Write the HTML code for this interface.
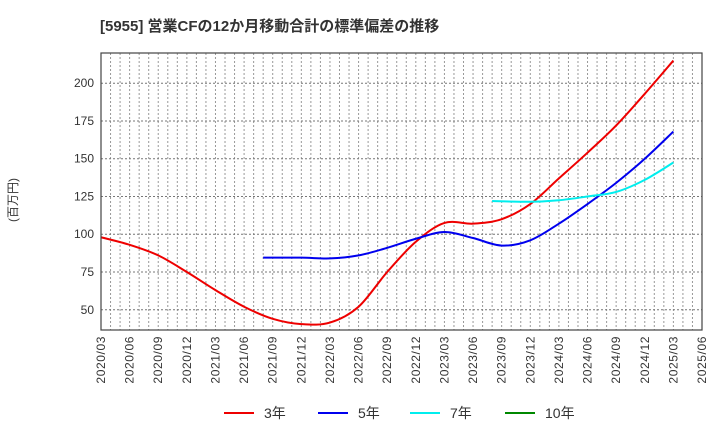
<!DOCTYPE html>
<html><head><meta charset="utf-8"><style>
body{margin:0;background:#fff;font-family:"Liberation Sans","Noto Sans CJK JP",sans-serif}
svg text{font-family:"Liberation Sans","Noto Sans CJK JP",sans-serif}
</style></head><body>
<svg width="720" height="440" xmlns="http://www.w3.org/2000/svg" id="chart">
<text x="100" y="31" font-size="15" font-weight="bold" fill="#333">[5955]  営業CFの12か月移動合計の標準偏差の推移</text>
<text transform="translate(17,200) rotate(-90)" text-anchor="middle" font-size="12" fill="#333">(百万円)</text>
<g id="grid"></g><g id="axes"></g><g id="series"></g>
<rect x="101" y="53" width="601" height="277" fill="none" stroke="#444" stroke-width="1.2"/>
<g id="legend"></g>
</svg>
<script>
const xTickLabels=["2020/03","2020/06","2020/09","2020/12","2021/03","2021/06","2021/09","2021/12","2022/03","2022/06","2022/09","2022/12","2023/03","2023/06","2023/09","2023/12","2024/03","2024/06","2024/09","2024/12","2025/03","2025/06"];
const yTicks=[50,75,100,125,150,175,200];
const s3Months=[0,3,6,9,12,15,18,21,24,27,30,33,36,39,42,45,48,51,54,57,60];
const s3Values=[98,93,86,75,63,52,44,40.5,41.5,52,75,95,107.5,107,110,120,137,154,172,193,215];
const s5Months=[17,21,24,27,30,33,36,39,42,45,48,51,54,57,60];
const s5Values=[84.5,84.5,84,86,91,97,101.5,97.5,92.5,96,107,120,134,150,168];
const s7Months=[41,45,48,51,54,57,60];
const s7Values=[122,121.5,122.5,125,128,136,147.5];
const X0=101,X1=702,Y0=53,Y1=330,M0=0,M1=63,V0=36.6,V1=220;
const xs=m=>X0+(m-M0)/(M1-M0)*(X1-X0);
const ys=v=>Y1-(v-V0)/(V1-V0)*(Y1-Y0);
const NS="http://www.w3.org/2000/svg";
function mk(t,p,parent){const e=document.createElementNS(NS,t);for(const k in p)e.setAttribute(k,p[k]);document.getElementById(parent).appendChild(e);return e;}
for(let m=1;m<M1;m++){const l=mk('line',{x1:xs(m),x2:xs(m),y1:Y0,y2:Y1,stroke:'#999','stroke-dasharray':'2,2','stroke-width':1},'grid');

}
yTicks.forEach(v=>{const l=mk('line',{x1:X0,x2:X1,y1:ys(v),y2:ys(v),stroke:'#777','stroke-dasharray':'2,2','stroke-width':1},'grid');


const t=mk('text',{x:X0-7,y:ys(v)+4,'text-anchor':'end','font-size':12,fill:'#333'},'axes');t.textContent=v;

});
xTickLabels.forEach((s,i)=>{const x=xs(i*3)+4;const t=mk('text',{transform:`translate(${x},336) rotate(-90)`,'text-anchor':'end','font-size':12,'letter-spacing':'0.6',fill:'#333'},'axes');t.textContent=s;

});
function path(ms,vs){const p=ms.map((m,i)=>[xs(m),ys(vs[i])]);let d=`M${p[0][0]},${p[0][1]}`;
for(let i=0;i<p.length-1;i++){const a=p[Math.max(0,i-1)],b=p[i],c=p[i+1],e=p[Math.min(p.length-1,i+2)];
d+=` C${b[0]+(c[0]-a[0])/6},${b[1]+(c[1]-a[1])/6} ${c[0]-(e[0]-b[0])/6},${c[1]-(e[1]-b[1])/6} ${c[0]},${c[1]}`;}return d;}
[[s3Months,s3Values,'#ee0000','series-3y'],[s5Months,s5Values,'#0000ee','series-5y'],[s7Months,s7Values,'#00eeee','series-7y']].forEach(([m,v,c,n])=>{
const p=mk('path',{d:path(m,v),fill:'none',stroke:c,'stroke-width':2},'series');

});
[['3年','#ee0000',224],['5年','#0000ee',318],['7年','#00eeee',410],['10年','#008800',505]].forEach(([l,c,x])=>{
const ln=mk('line',{x1:x,x2:x+30,y1:413,y2:413,stroke:c,'stroke-width':2},'legend');


const t=mk('text',{x:x+40,y:418,'font-size':14,fill:'#333'},'legend');t.textContent=l;

});
</script>
</body></html>
